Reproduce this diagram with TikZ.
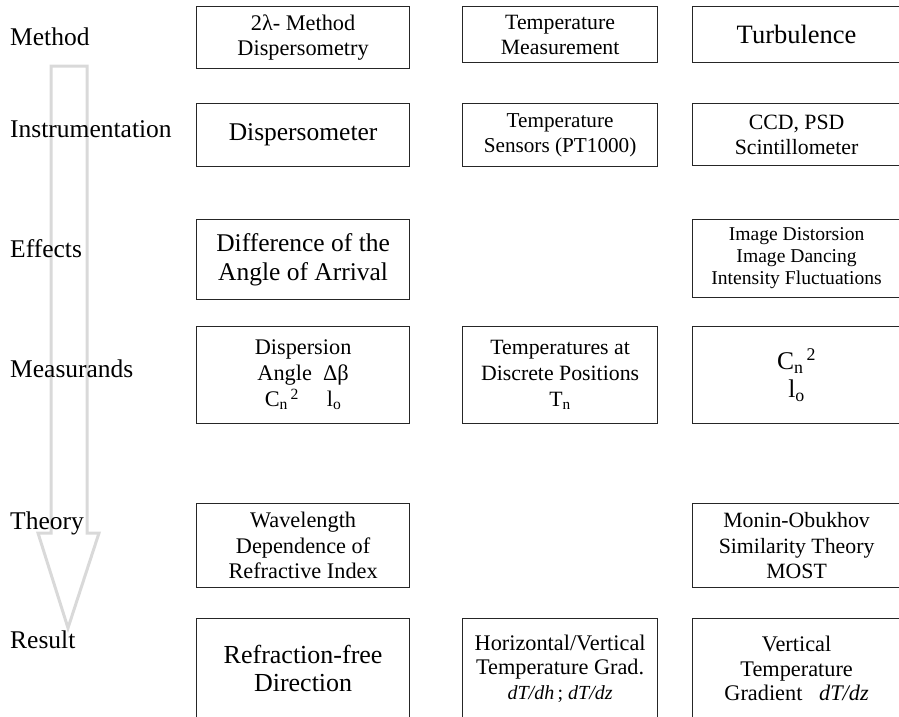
\documentclass[tikz,border=0pt]{standalone}
\usepackage{fontspec}
\setmainfont{Liberation Serif}
\newcommand{\boxfont}[2]{\fontsize{#1}{#2}\selectfont}

\begin{document}
\begin{tikzpicture}[x=1pt,y=-1pt,
    box/.style={draw=black!85, line width=1.2pt, align=center, inner sep=0pt, anchor=north west},
    rowlabel/.style={anchor=base west, inner sep=0pt, font=\boxfont{25.5}{29}}]
  \useasboundingbox (0,0) rectangle (899,716);

  % big gray arrow behind the row labels
  \draw[black!15, line width=3pt] (51,66) -- (87,66) -- (87,533) -- (99,533)
    -- (68,628) -- (38,533) -- (51,533) -- cycle;

  % row labels
  \node[rowlabel] (lmethod) at (10,45) {Method};
  \node[rowlabel] (linstr) at (10,137) {Instrumentation};
  \node[rowlabel] (leffects) at (10,257) {Effects};
  \node[rowlabel] (lmeas) at (10,377) {Measurands};
  \node[rowlabel] (ltheory) at (10,529) {Theory};
  \node[rowlabel] (lresult) at (10,648) {Result};

  % Method
  \node[box, minimum width=213pt, minimum height=62pt, font=\boxfont{22.3}{25.5}] (method1) at (196,6)
    {2λ- Method\\Dispersometry};
  \node[box, minimum width=195pt, minimum height=56pt, font=\boxfont{21.8}{25}] (method2) at (462,6)
    {Temperature\\Measurement};
  \node[box, minimum width=208pt, minimum height=56pt, font=\boxfont{26.5}{30}] (method3) at (692,6)
    {Turbulence};

  % Instrumentation
  \node[box, minimum width=213pt, minimum height=63pt, font=\boxfont{25.5}{29}] (instr1) at (196,103)
    {Dispersometer};
  \node[box, minimum width=195pt, minimum height=63pt, font=\boxfont{21.2}{25}] (instr2) at (462,103)
    {Temperature\\Sensors (PT1000)};
  \node[box, minimum width=208pt, minimum height=62pt, font=\boxfont{21.8}{25}] (instr3) at (692,103)
    {CCD, PSD\\Scintillometer};

  % Effects
  \node[box, minimum width=213pt, minimum height=80pt, font=\boxfont{25.5}{29}] (effect1) at (196,219)
    {Difference of the\\Angle of Arrival};
  \node[box, minimum width=208pt, minimum height=78pt, font=\boxfont{19.6}{22}] (effect3) at (692,219)
    {Image Distorsion\\Image Dancing\\Intensity Fluctuations};

  % Measurands
  \node[box, minimum width=213pt, minimum height=97pt, font=\boxfont{22.3}{26}] (meas1) at (196,326)
    {Dispersion\\Angle\ \ Δβ\\C\textsubscript{n}\textsuperscript{\,2}\quad\ l\textsubscript{o}};
  \node[box, minimum width=195pt, minimum height=97pt, font=\boxfont{21.8}{26}] (meas2) at (462,326)
    {Temperatures at\\Discrete Positions\\T\textsubscript{n}};
  \node[box, minimum width=208pt, minimum height=97pt, font=\boxfont{25.5}{28}] (meas3) at (692,326)
    {C\textsubscript{n}\textsuperscript{\,2}\\l\textsubscript{o}};

  % Theory
  \node[box, minimum width=213pt, minimum height=84pt, font=\boxfont{22.3}{25.5}] (theory1) at (196,503)
    {Wavelength\\Dependence of\\Refractive Index};
  \node[box, minimum width=208pt, minimum height=84pt, font=\boxfont{21.8}{25.5}] (theory3) at (692,503)
    {Monin-Obukhov\\Similarity Theory\\MOST};

  % Result
  \node[box, minimum width=213pt, minimum height=100pt, font=\boxfont{26}{28}] (result1) at (196,618)
    {Refraction-free\\Direction};
  \node[box, minimum width=195pt, minimum height=100pt, font=\boxfont{22.3}{24.5}] (result2) at (462,618)
    {Horizontal/Vertical\\Temperature Grad.\\{\boxfont{20}{22}\itshape dT/dh\,\upshape ;\ \itshape dT/dz}};
  \node[box, minimum width=208pt, minimum height=100pt, font=\boxfont{22.3}{24.5}] (result3) at (692,618)
    {Vertical\\Temperature\\Gradient\ \ \ \textit{dT/dz}};
\end{tikzpicture}
\end{document}
